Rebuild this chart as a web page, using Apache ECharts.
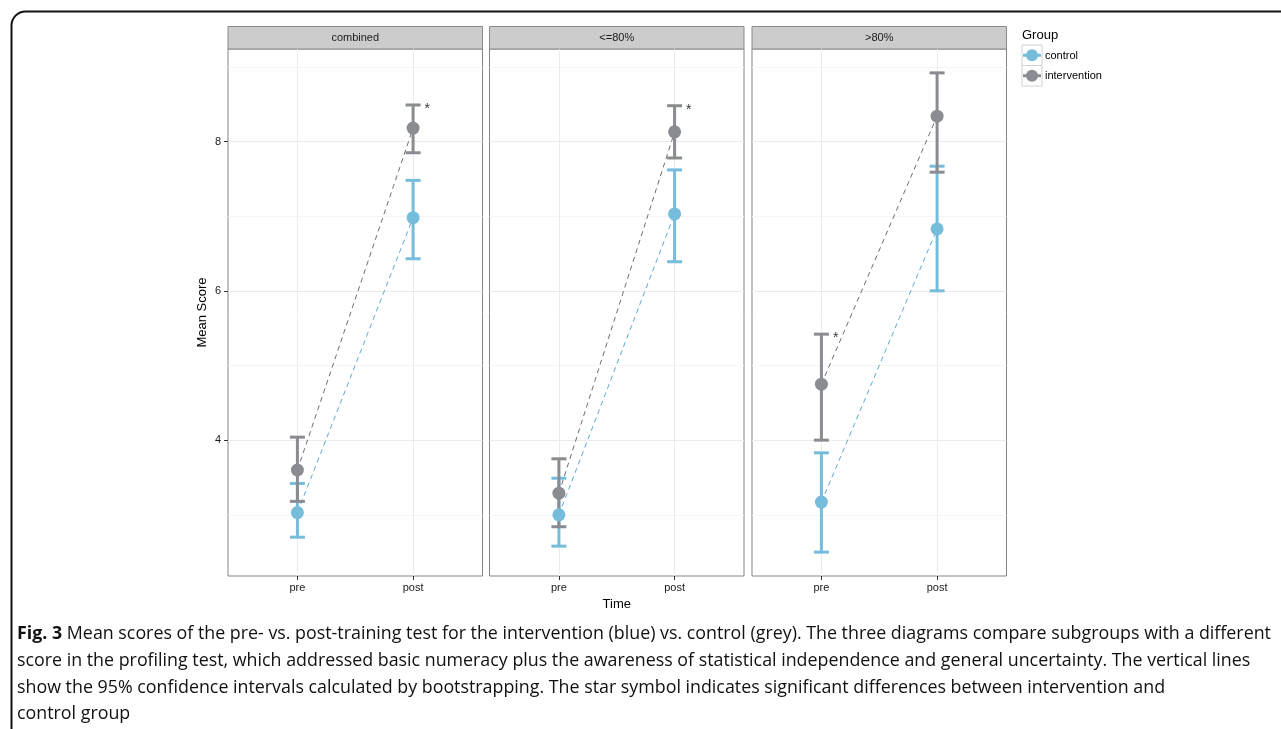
<!DOCTYPE html>
<html>
<head>
<meta charset="utf-8">
<script src="https://cdn.jsdelivr.net/npm/echarts@6/dist/echarts.min.js"></script>
<style>
html,body{margin:0;padding:0;background:#fff;}
#chart{width:1281px;height:729px;}
</style>
</head>
<body>
<div id="chart"></div>
<script>
// ---------------- data ----------------
const panels = ['combined', '<=80%', '>80%'];
const times = ['pre', 'post'];
const groupNames = ['control', 'intervention'];
const yTicks = [4, 6, 8];
const yMinorTicks = [3, 5, 7, 9];

// per panel: [pre, post]
const controlMean = [[3.03, 6.98], [3.00, 7.03], [3.17, 6.83]];
const controlLow = [[2.70, 6.43], [2.58, 6.39], [2.50, 6.00]];
const controlHigh = [[3.42, 7.48], [3.49, 7.62], [3.83, 7.67]];
const interventionMean = [[3.60, 8.18], [3.29, 8.13], [4.75, 8.34]];
const interventionLow = [[3.18, 7.85], [2.84, 7.78], [4.00, 7.59]];
const interventionHigh = [[4.04, 8.49], [3.75, 8.48], [5.42, 8.92]];
// star marks (placed at intervention upper CI)
const significant = [[false, true], [false, true], [true, false]];

const captionLines = [
  '{b|Fig. 3} Mean scores of the pre- vs. post-training test for the intervention (blue) vs. control (grey). The three diagrams compare subgroups with a different',
  'score in the profiling test, which addressed basic numeracy plus the awareness of statistical independence and general uncertainty. The vertical lines',
  'show the 95% confidence intervals calculated by bootstrapping. The star symbol indicates significant differences between intervention and',
  'control group'
];

// ---------------- styling ----------------
const colors = ['#76bcdb', '#8a8c91'];
const dashColors = ['#5aaad6', '#6e6e6e'];
const yMin = 2.18, yMax = 9.24;
const gridLefts = [228, 489.5, 752];
const gridW = 254.5, gridTop = 49, gridH = 527;
const axisFont = 'Liberation Sans';

const chart = echarts.init(document.getElementById('chart'), null, {renderer: 'canvas'});

const grids = [], xAxes = [], yAxes = [], series = [];
const meansByGroup = [controlMean, interventionMean];
const lowByGroup = [controlLow, interventionLow];
const highByGroup = [controlHigh, interventionHigh];

function errorBarRender(color) {
  return function (params, api) {
    const x = api.value(0), lo = api.value(1), hi = api.value(2);
    const a = api.coord([x, lo]), b = api.coord([x, hi]);
    const hw = 7.5;
    const st = {stroke: color, lineWidth: 3};
    return {type: 'group', children: [
      {type: 'line', shape: {x1: a[0], y1: a[1], x2: b[0], y2: b[1]}, style: st},
      {type: 'line', shape: {x1: a[0] - hw, y1: a[1], x2: a[0] + hw, y2: a[1]}, style: st},
      {type: 'line', shape: {x1: b[0] - hw, y1: b[1], x2: b[0] + hw, y2: b[1]}, style: st}
    ]};
  };
}

panels.forEach((name, p) => {
  grids.push({left: gridLefts[p], top: gridTop, width: gridW, height: gridH,
    show: true, borderColor: '#858585', borderWidth: 1, backgroundColor: '#fff', containLabel: false});
  xAxes.push({
    type: 'value', gridIndex: p, min: 0.4, max: 2.6,
    axisLine: {show: false},
    axisTick: {show: true, customValues: [1, 2], length: 4, lineStyle: {color: '#333'}},
    axisLabel: {show: true, customValues: [1, 2], formatter: v => times[Math.round(v) - 1],
      color: '#1a1a1a', fontSize: 11, fontFamily: axisFont, margin: 6},
    splitLine: {show: true, lineStyle: {color: '#ebebeb', width: 1}},
    name: p === 1 ? 'Time' : '', nameLocation: 'middle', nameGap: 20,
    nameTextStyle: {fontSize: 13, fontFamily: axisFont, color: '#000'}
  });
  yAxes.push({
    type: 'value', gridIndex: p, min: yMin, max: yMax,
    axisLine: {show: false},
    axisTick: {show: p === 0, customValues: yTicks, length: 4, lineStyle: {color: '#333'}},
    axisLabel: {show: p === 0, customValues: yTicks, color: '#1a1a1a', fontSize: 11, fontFamily: axisFont, margin: 7},
    splitLine: {show: true, lineStyle: {color: '#ebebeb', width: 1}},
    name: p === 0 ? 'Mean Score' : '', nameLocation: 'middle', nameGap: 19,
    nameTextStyle: {fontSize: 13, fontFamily: axisFont, color: '#000'}
  });
  yAxes.push({
    type: 'value', gridIndex: p, min: yMin, max: yMax, position: 'left',
    axisLine: {show: false}, axisLabel: {show: false},
    axisTick: {show: false, customValues: yMinorTicks},
    splitLine: {show: true, lineStyle: {color: '#f5f5f5', width: 1}}
  });
  const yi = 2 * p;
  // dashed connecting lines
  groupNames.forEach((g, gi) => {
    series.push({
      type: 'line', name: g, xAxisIndex: p, yAxisIndex: yi, silent: true,
      data: times.map((t, ti) => [ti + 1, meansByGroup[gi][p][ti]]),
      symbol: 'none', lineStyle: {color: dashColors[gi], width: 1, type: [5, 4]}, z: 2, animation: false
    });
  });
  groupNames.forEach((g, gi) => {
    series.push({
      type: 'custom', name: g, xAxisIndex: p, yAxisIndex: yi, silent: true,
      renderItem: errorBarRender(colors[gi]),
      encode: {x: 0, y: [1, 2]},
      data: times.map((t, ti) => [ti + 1, lowByGroup[gi][p][ti], highByGroup[gi][p][ti]]),
      z: 3, animation: false
    });
  });
  groupNames.forEach((g, gi) => {
    series.push({
      type: 'scatter', name: g, xAxisIndex: p, yAxisIndex: yi, silent: true,
      data: times.map((t, ti) => [ti + 1, meansByGroup[gi][p][ti]]),
      symbol: 'circle', symbolSize: 13, itemStyle: {color: colors[gi], opacity: 1}, z: 4, animation: false
    });
  });
  // stars
  const starData = [];
  times.forEach((t, ti) => { if (significant[p][ti]) starData.push([ti + 1, interventionHigh[p][ti]]); });
  series.push({
    type: 'scatter', xAxisIndex: p, yAxisIndex: yi, silent: true, symbolSize: 1,
    itemStyle: {color: 'rgba(0,0,0,0)'}, data: starData, z: 5, animation: false,
    label: {show: true, position: 'right', distance: 11, formatter: '*', fontSize: 14,
      fontFamily: axisFont, color: '#000', offset: [0, 4]}
  });
});

// caption font sizing so line 1 spans the same width as the reference
const capFont = "'Open Sans', sans-serif";
const ctx = document.createElement('canvas').getContext('2d');
ctx.font = '16px ' + capFont;
const line1Plain = captionLines[0].replace('{b|Fig. 3}', 'Fig. 3');
const w16 = ctx.measureText(line1Plain).width;
const capSize = Math.min(18, 16 * 1253 / w16);

const graphics = [];
// outer frame
graphics.push({type: 'rect', left: 9, top: 9, shape: {width: 1330, height: 780, r: 14},
  style: {fill: null, stroke: '#111', lineWidth: 2}, z: 10, silent: true});
// strip headers
panels.forEach((name, p) => {
  graphics.push({type: 'rect', shape: {x: gridLefts[p], y: 26.5, width: gridW, height: 22.5},
    style: {fill: '#cccccc', stroke: '#8a8a8a', lineWidth: 1}, silent: true});
  graphics.push({type: 'text', x: gridLefts[p] + gridW / 2, y: 37.8,
    style: {text: name, fill: '#1a1a1a', font: '11px ' + axisFont, textAlign: 'center', textVerticalAlign: 'middle'}, silent: true});
});
// legend
graphics.push({type: 'text', x: 1022, y: 35.5,
  style: {text: 'Group', fill: '#000', font: '13px ' + axisFont, textAlign: 'left', textVerticalAlign: 'middle'}, silent: true});
groupNames.forEach((g, gi) => {
  const y0 = 45 + gi * 20.5;
  graphics.push({type: 'rect', shape: {x: 1022, y: y0, width: 20, height: 20.5},
    style: {fill: '#fff', stroke: '#d0d0d0', lineWidth: 1}, silent: true});
  graphics.push({type: 'line', shape: {x1: 1023, y1: y0 + 10.25, x2: 1041, y2: y0 + 10.25},
    style: {stroke: colors[gi], lineWidth: 3}, silent: true});
  graphics.push({type: 'circle', shape: {cx: 1032, cy: y0 + 10.25, r: 6},
    style: {fill: colors[gi]}, silent: true});
  graphics.push({type: 'text', x: 1045, y: y0 + 10.75,
    style: {text: g, fill: '#000', font: '11px ' + axisFont, textAlign: 'left', textVerticalAlign: 'middle'}, silent: true});
});
// caption
const capY = [634, 661, 688, 714];
captionLines.forEach((ln, i) => {
  graphics.push({type: 'text', x: 17, y: capY[i],
    style: {text: ln, fill: '#111', font: capSize + 'px ' + capFont, textAlign: 'left', textVerticalAlign: 'middle',
      rich: {b: {fontWeight: 'bold', fontSize: capSize, fontFamily: capFont, fill: '#111'}}}, silent: true});
});

chart.setOption({
  animation: false,
  backgroundColor: '#fff',
  grid: grids,
  xAxis: xAxes,
  yAxis: yAxes,
  series: series,
  graphic: graphics
});
</script>
</body>
</html>
